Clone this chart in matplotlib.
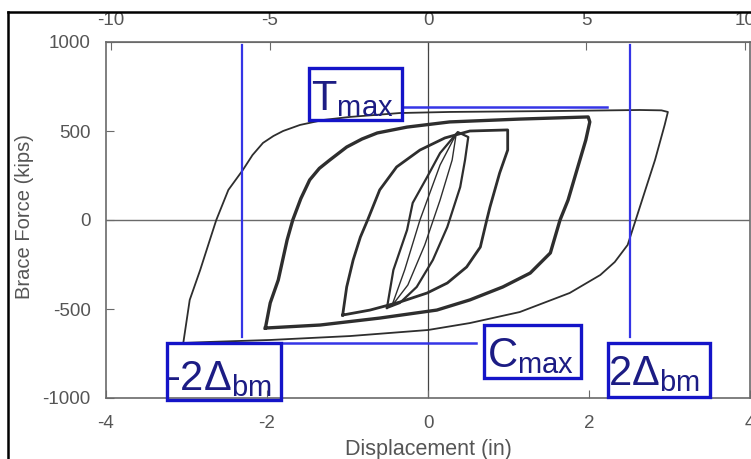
import matplotlib.pyplot as plt
from matplotlib.patches import Rectangle
from matplotlib.lines import Line2D

plt.rcParams['font.family'] = ['Liberation Sans', 'DejaVu Sans']
plt.rcParams['mathtext.default'] = 'regular'
plt.rcParams['axes.unicode_minus'] = False

# hysteresis loops: displacement (in), brace force (kips)
outer_disp = [-3.04, -2.96, -2.83, -2.71, -2.63, -2.48, -2.30, -2.18, -2.05, -1.92, -1.80, -1.59, -1.30,
              -0.97, -0.35, 0.27, 1.52, 2.63, 2.90, 2.98, 2.94, 2.82, 2.70, 2.58, 2.48, 2.32, 2.14, 1.76,
              1.14, 0.52, 0.00, -0.97, -1.96, -2.71, -3.04]
outer_force = [-691, -449, -281, -112, 0, 169, 281, 365, 433, 472, 500, 534, 562,
               579, 601, 607, 612, 618, 616, 607, 534, 337, 169, 0, -140, -236, -309, -410,
               -517, -579, -618, -652, -674, -685, -691]

loop3_disp = [-2.02, -1.96, -1.86, -1.75, -1.68, -1.58, -1.47, -1.35, -1.22, -1.01, -0.82, -0.63, -0.26,
              0.27, 1.14, 1.99, 2.01, 1.96, 1.85, 1.74, 1.64, 1.52, 1.27, 0.93, 0.52, 0.11, -0.60, -1.34, -2.02]
loop3_force = [-607, -466, -337, -112, 0, 120, 225, 290, 337, 410, 455, 489, 522,
               551, 567, 579, 551, 449, 281, 112, 0, -185, -298, -376, -449, -506, -551, -590, -607]

loop2_disp = [-1.06, -1.01, -0.93, -0.84, -0.75, -0.60, -0.39, -0.10, 0.21, 0.52, 0.99,
              0.99, 0.89, 0.77, 0.73, 0.65, 0.48, 0.24, -0.01, -0.35, -0.72, -1.06]
loop2_force = [-534, -376, -225, -96, 0, 169, 298, 393, 461, 500, 506,
               393, 264, 73, 0, -152, -264, -354, -410, -461, -506, -534]

loop1_disp = [-0.51, -0.43, -0.26, -0.19, -0.01, 0.15, 0.37, 0.50, 0.46, 0.40, 0.24, 0.06, -0.14, -0.35, -0.51]
loop1_force = [-494, -281, -56, 96, 242, 376, 494, 466, 337, 185, -39, -225, -376, -466, -494]

loop0_disp = [-0.45, -0.29, -0.10, 0.15, 0.35, 0.30, 0.15, -0.04, -0.25, -0.45]
loop0_force = [-483, -281, 0, 309, 483, 337, 112, -140, -365, -483]

t_max = 635
c_max = -691
neg_2dbm = -2.31
pos_2dbm = 2.51

fig = plt.figure(figsize=(7.51, 4.59), dpi=100)
ax = fig.add_axes([106 / 751, 1 - 398 / 459, 644 / 751, 356 / 459])

grey = '#6a6a6a'
ax.axhline(0, color=grey, lw=1.0, zorder=1)
ax.axvline(0, color='#444444', lw=0.9, zorder=1)

curve = '#2e2e2e'
ax.plot(outer_disp, outer_force, color=curve, lw=1.3, zorder=3)
ax.plot(loop3_disp, loop3_force, color=curve, lw=2.4, zorder=3)
ax.plot(loop2_disp, loop2_force, color=curve, lw=2.0, zorder=3)
ax.plot(loop1_disp, loop1_force, color=curve, lw=1.6, zorder=3)
ax.plot(loop0_disp, loop0_force, color=curve, lw=1.0, zorder=3)

line_blue = '#3535e6'
box_blue = '#1414c8'
text_blue = '#1c1c84'
ax.plot([neg_2dbm, neg_2dbm], [983, -657], color=line_blue, lw=1.6, zorder=4)
ax.plot([pos_2dbm, pos_2dbm], [983, -657], color=line_blue, lw=1.6, zorder=4)
ax.plot([-0.32, 2.22], [t_max, t_max], color=line_blue, lw=1.8, zorder=4)
ax.plot([-1.83, 0.60], [c_max, c_max], color=line_blue, lw=1.8, zorder=4)

boxes = [(-1.48, 562, 1.16, 292), (0.70, -888, 1.20, 298),
         (-3.24, -1011, 1.41, 320), (2.24, -994, 1.26, 303)]
for x0, y0, w, h in boxes:
    ax.add_patch(Rectangle((x0, y0), w, h, fill=False, ec=box_blue, lw=2.4,
                           zorder=5, clip_on=False))

ax.text(-1.45, 618, r'T$_{max}$', fontsize=30, color=text_blue, va='baseline', zorder=6)
ax.text(0.73, -826, r'C$_{max}$', fontsize=30, color=text_blue, va='baseline', zorder=6)
ax.text(-3.25, -955, r'-2$\Delta_{bm}$', fontsize=30, color=text_blue, va='baseline', zorder=6)
ax.text(2.24, -927, r'2$\Delta_{bm}$', fontsize=30, color=text_blue, va='baseline', zorder=6)

lab = '#555555'
ax.set_xlim(-4, 4)
ax.set_ylim(-1000, 1000)
ax.set_xticks([-4, -2, 0, 2, 4])
ax.set_yticks([-1000, -500, 0, 500, 1000])
ax.tick_params(direction='in', length=6, color=grey, labelcolor=lab, labelsize=13.5)
ax.tick_params(axis='x', pad=12)
ax.tick_params(axis='y', pad=11)
for s in ax.spines.values():
    s.set_color(grey)
    s.set_linewidth(1.2)

top = ax.secondary_xaxis('top', functions=(lambda d: d * 2.54, lambda d: d / 2.54))
top.set_xticks([-10, -5, 0, 5, 10])
top.tick_params(direction='in', length=6, color=grey, labelcolor=lab, labelsize=13.5, pad=9)
top.spines['top'].set_color(grey)

ax.set_xlabel('Displacement (in)', fontsize=15.5, color=lab)
ax.set_ylabel('Brace Force (kips)', fontsize=14.5, color=lab)
ax.xaxis.set_label_coords(0.5, -0.115)
ax.yaxis.set_label_coords(-0.112, 0.51)

fig.add_artist(Line2D([7.5 / 751, 7.5 / 751], [0, 1 - 12 / 459], transform=fig.transFigure, color='black', lw=1.8))
fig.add_artist(Line2D([7.5 / 751, 1], [1 - 12 / 459, 1 - 12 / 459], transform=fig.transFigure, color='black', lw=1.8))

fig.savefig('out.png', dpi=100)
